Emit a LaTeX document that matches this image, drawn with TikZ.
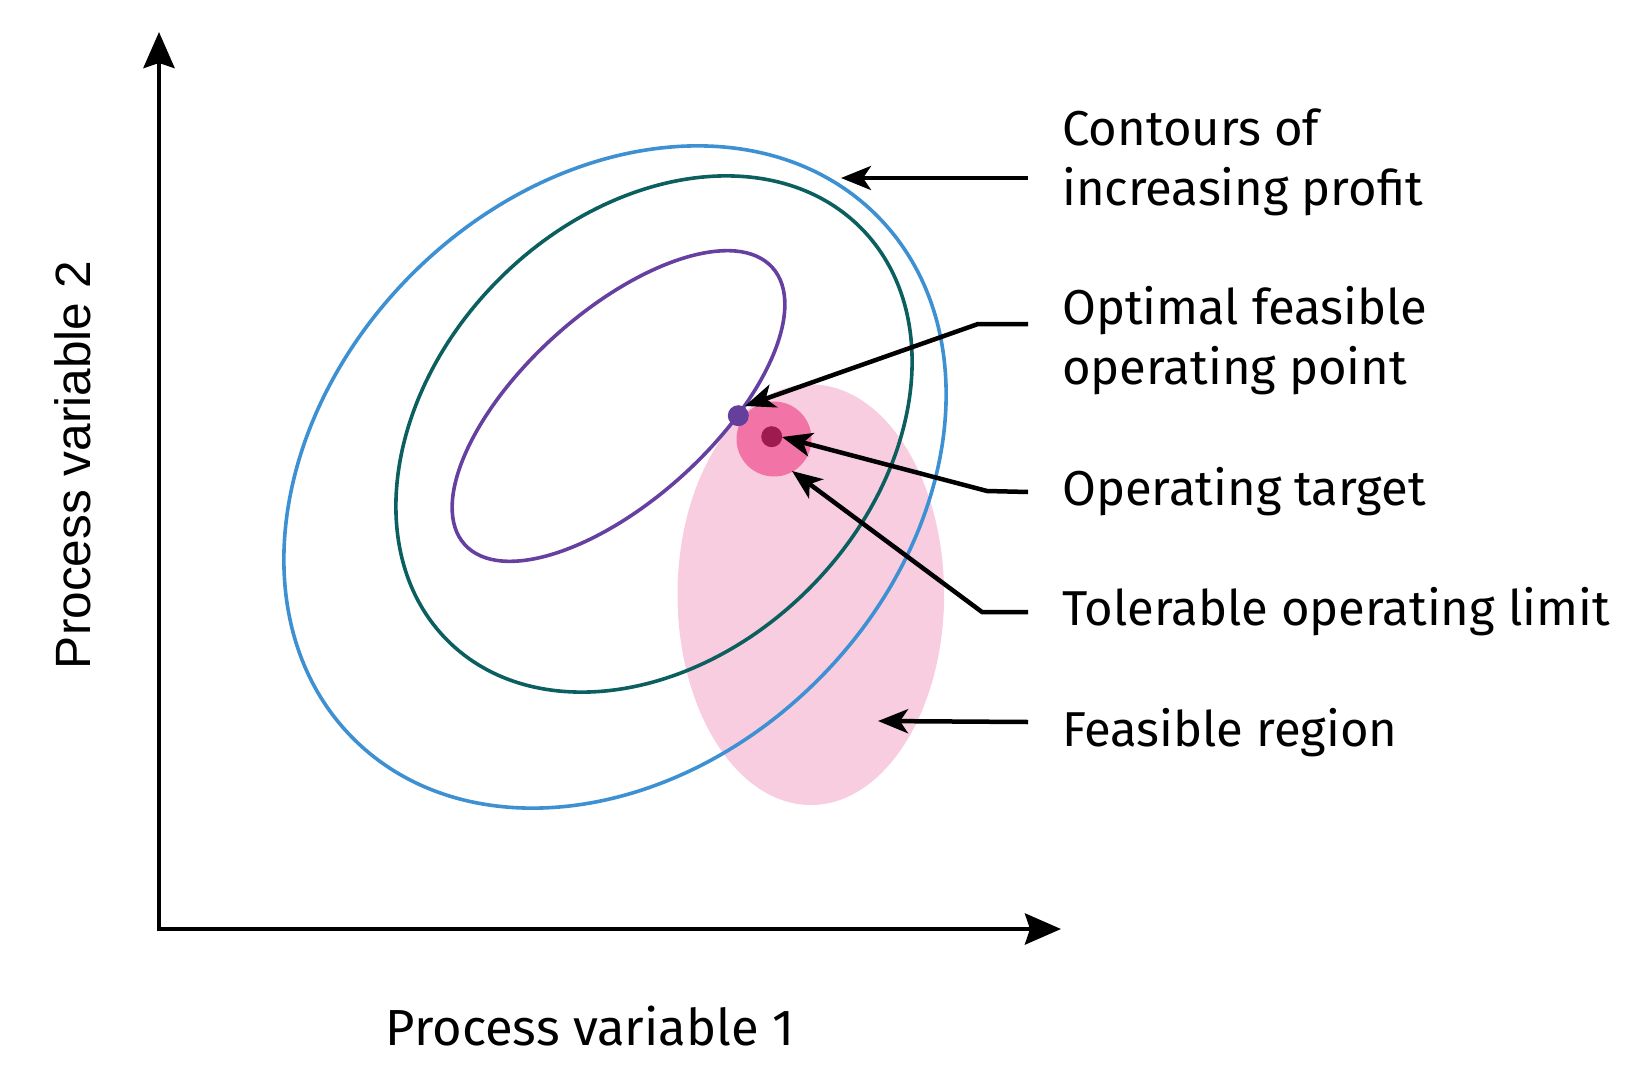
\documentclass[tikz,border=0pt]{standalone}
\usepackage{fontspec}
\setmainfont{Fira Sans}
\newfontfamily\yfont{Liberation Sans}
\usetikzlibrary{arrows.meta}
\definecolor{cblue}{HTML}{3D90D2}
\definecolor{cteal}{HTML}{0C5F5F}
\definecolor{cpurple}{HTML}{6640A0}
\definecolor{cfeas}{HTML}{F9CDE0}
\definecolor{ctol}{HTML}{F274A6}
\definecolor{ctarget}{HTML}{9E1A50}
\definecolor{cdot}{HTML}{653F9C}
\begin{document}
\begin{tikzpicture}[x=1pt,y=-1pt,
  axisline/.style={line width=4.5pt, line join=miter,
    {Stealth[length=36pt,width=31pt,inset=5pt]}-{Stealth[length=36pt,width=31pt,inset=5pt]}},
  conn/.style={line width=4.5pt, line join=miter, -{Stealth[length=30pt,width=24pt,inset=8pt]}},
  contour/.style={line width=3.6pt},
  lbl/.style={font=\fontsize{49}{59}\selectfont, anchor=base west, inner sep=0pt},
  dotnode/.style={circle, inner sep=0pt, draw=none}]
\useasboundingbox (0,0) rectangle (1649,1089);
% feasible region
\fill[cfeas] (810.8,594.7) ellipse [x radius=133.3pt, y radius=210.3pt];
% tolerable limit
\node[dotnode, fill=ctol, minimum size=75pt] (tol) at (774,439) {};
% contours of increasing profit
\draw[contour, cblue, rotate around={45:(615,477)}] (615,477) ellipse [x radius=370pt, y radius=287pt];
\draw[contour, cteal, rotate around={45:(654,434)}] (654,434) ellipse [x radius=292pt, y radius=219pt];
\draw[contour, cpurple, rotate around={42:(618.5,406)}] (618.5,406) ellipse [x radius=207pt, y radius=94.5pt];
% points
\node[dotnode, fill=ctarget, minimum size=21pt] (target) at (771.7,436.7) {};
\node[dotnode, fill=cdot, minimum size=21pt] (optdot) at (738.3,415.7) {};
% axes
\coordinate (origin) at (159,929);
\coordinate (ytip) at (159,32);
\coordinate (xtip) at (1061,929);
\draw[axisline] (ytip) -- (origin) -- (xtip);
% axis labels
\node[font=\fontsize{50.7}{60}\selectfont, anchor=base, inner sep=0pt] (xlab) at (590,1045) {Process variable 1};
\node[font=\yfont\fontsize{49.6}{58}\selectfont, rotate=90, anchor=base, inner sep=0pt] (ylab) at (90,465) {Process variable 2};
% right labels
\node[lbl] (l1a) at (1062,146) {Contours of};
\node[lbl] (l1b) at (1062,205) {increasing profit};
\node[lbl] (l2a) at (1062,324) {Optimal feasible};
\node[lbl] (l2b) at (1062,384) {operating point};
\node[lbl] (l3) at (1062,505) {Operating target};
\node[lbl] (l4) at (1062,625) {Tolerable operating limit};
\node[lbl] (l5) at (1062,746) {Feasible region};
% connectors
\coordinate (s1) at (1028,178); \coordinate (t1) at (841,178);
\coordinate (s2) at (1028,324); \coordinate (e2) at (978,324); \coordinate (t2) at (745,406);
\coordinate (s3) at (1028,492); \coordinate (e3) at (987,491); \coordinate (t3) at (782,437);
\coordinate (s4) at (1028,612); \coordinate (e4) at (982,612); \coordinate (t4) at (792,471);
\coordinate (s5) at (1028,722); \coordinate (t5) at (878,721);
\draw[conn] (s1) -- (t1);
\draw[conn] (s2) -- (e2) -- (t2);
\draw[conn] (s3) -- (e3) -- (t3);
\draw[conn] (s4) -- (e4) -- (t4);
\draw[conn] (s5) -- (t5);
\end{tikzpicture}
\end{document}
